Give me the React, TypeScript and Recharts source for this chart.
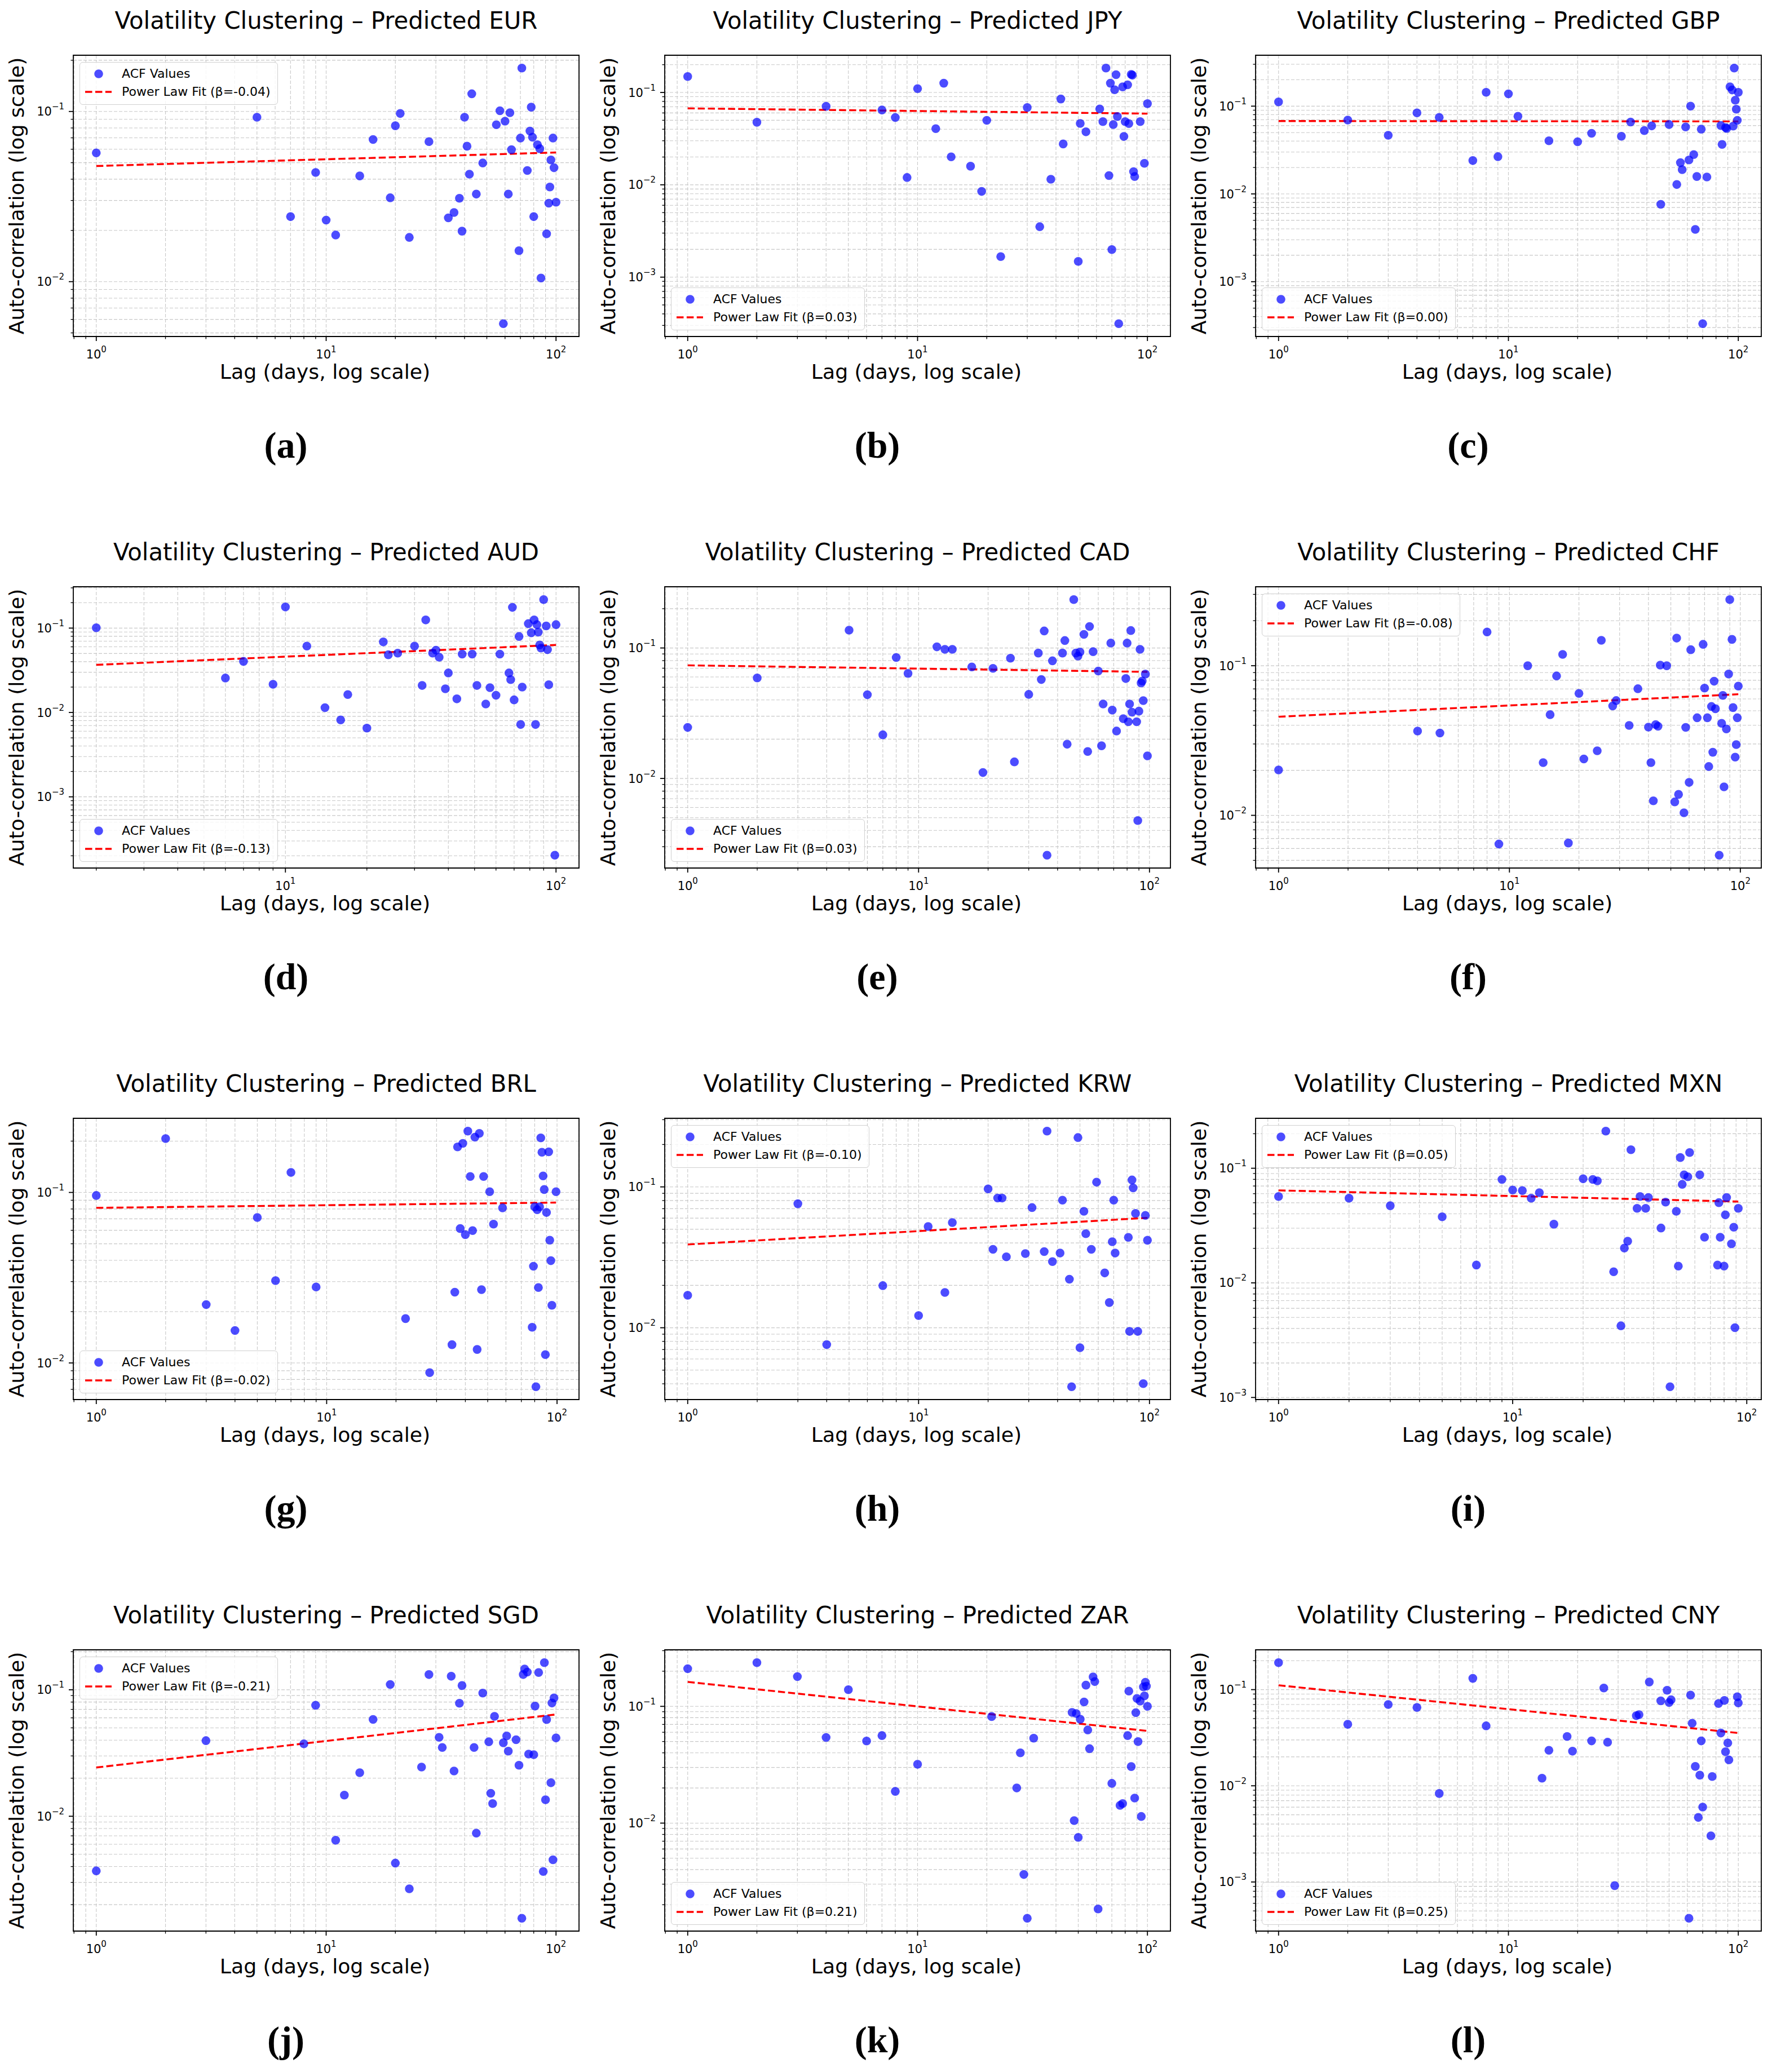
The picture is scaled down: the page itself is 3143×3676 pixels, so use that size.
import React from 'react';
import {
  ComposedChart,
  Scatter,
  Line,
  XAxis,
  YAxis,
  CartesianGrid,
  ReferenceArea,
  Legend,
} from 'recharts';

const FONT = '"DejaVu Sans", sans-serif';
const SERIF = '"Liberation Serif", "DejaVu Serif", serif';

// ACF values (lag in days, auto-correlation)
const EUR_LAGS = [1, 5, 7, 9, 10, 11, 14, 16, 19, 20, 21, 23, 28, 34, 36, 38, 39, 40, 41, 42, 43, 45, 48, 55, 57, 59, 60, 62, 63, 64, 69, 70, 71, 75, 77, 78, 79, 80, 83, 85, 86, 91, 93, 94, 95, 97, 98, 100];
const EUR_ACF = [0.0571, 0.0925, 0.0241, 0.0438, 0.023, 0.0188, 0.0418, 0.0684, 0.0311, 0.0824, 0.0973, 0.0182, 0.0665, 0.0237, 0.0255, 0.0309, 0.0198, 0.0925, 0.0625, 0.0428, 0.127, 0.0327, 0.0498, 0.0836, 0.101, 0.00566, 0.0877, 0.0327, 0.0983, 0.0596, 0.0152, 0.0698, 0.18, 0.045, 0.0767, 0.106, 0.0706, 0.0241, 0.0638, 0.0604, 0.0105, 0.0191, 0.0289, 0.036, 0.0519, 0.0698, 0.0467, 0.0293];
const EUR_FIT = [0.0478, 0.0574];

const JPY_LAGS = [1, 2, 4, 7, 8, 9, 10, 12, 13, 14, 17, 19, 20, 23, 30, 34, 38, 42, 43, 50, 51, 54, 62, 64, 66, 68, 69, 70, 71, 72, 73, 74, 75, 78, 79, 80, 82, 83, 85, 86, 87, 88, 93, 97, 100];
const JPY_ACF = [0.149, 0.0476, 0.0708, 0.0646, 0.0535, 0.012, 0.11, 0.0406, 0.126, 0.0201, 0.0159, 0.00848, 0.0499, 0.00167, 0.0687, 0.00352, 0.0115, 0.085, 0.0277, 0.00148, 0.0462, 0.0375, 0.0663, 0.0484, 0.184, 0.0126, 0.126, 0.00199, 0.0449, 0.107, 0.156, 0.0549, 0.000313, 0.115, 0.0334, 0.0484, 0.121, 0.046, 0.157, 0.154, 0.0139, 0.0123, 0.0484, 0.0171, 0.0757];
const JPY_FIT = [0.0673, 0.059];

const GBP_LAGS = [1, 2, 3, 4, 5, 7, 8, 9, 10, 11, 15, 20, 23, 31, 34, 39, 42, 46, 50, 54, 56, 57, 59, 61, 62, 64, 65, 66, 69, 70, 73, 84, 85, 88, 89, 92, 94, 95, 96, 97, 98, 99, 100];
const GBP_ACF = [0.112, 0.0695, 0.0466, 0.0838, 0.0745, 0.024, 0.144, 0.0266, 0.138, 0.0766, 0.0403, 0.0393, 0.0491, 0.0454, 0.0659, 0.0527, 0.0596, 0.00762, 0.0618, 0.0128, 0.0227, 0.0189, 0.058, 0.0244, 0.1, 0.0281, 0.00394, 0.0158, 0.0547, 0.000332, 0.0156, 0.0602, 0.0366, 0.057, 0.0557, 0.166, 0.153, 0.0593, 0.272, 0.117, 0.0923, 0.0689, 0.144];
const GBP_FIT = [0.0677, 0.067];

const AUD_LAGS = [2, 6, 7, 9, 10, 12, 14, 16, 17, 20, 23, 24, 26, 30, 32, 33, 35, 36, 37, 39, 40, 43, 45, 49, 51, 55, 57, 60, 62, 67, 68, 69, 70, 73, 74, 75, 79, 81, 83, 84, 85, 86, 87, 88, 90, 92, 93, 94, 99, 100];
const AUD_ACF = [0.101, 0.0256, 0.0403, 0.0216, 0.178, 0.0612, 0.0114, 0.00815, 0.0163, 0.00652, 0.0686, 0.0483, 0.0505, 0.0612, 0.0209, 0.125, 0.0505, 0.0548, 0.0452, 0.0191, 0.0294, 0.0145, 0.0491, 0.0491, 0.0209, 0.0126, 0.0197, 0.016, 0.0491, 0.0294, 0.0245, 0.176, 0.0141, 0.0796, 0.0072, 0.02, 0.113, 0.088, 0.125, 0.0072, 0.11, 0.0895, 0.0631, 0.058, 0.218, 0.106, 0.0555, 0.0213, 0.000203, 0.11];
const AUD_FIT = [0.0367, 0.0631];

const CAD_LAGS = [1, 2, 5, 6, 7, 8, 9, 12, 13, 14, 17, 19, 21, 25, 26, 30, 33, 34, 35, 36, 38, 42, 43, 44, 47, 48, 49, 50, 52, 54, 55, 57, 60, 62, 63, 68, 69, 72, 77, 79, 80, 81, 82, 83, 84, 88, 89, 90, 91, 92, 93, 94, 96, 98];
const CAD_ACF = [0.0246, 0.0589, 0.137, 0.0438, 0.0216, 0.0845, 0.0638, 0.102, 0.0976, 0.0976, 0.0716, 0.0111, 0.0698, 0.0835, 0.0134, 0.0441, 0.0914, 0.0573, 0.135, 0.00258, 0.0797, 0.0914, 0.114, 0.0183, 0.235, 0.0914, 0.0866, 0.0931, 0.127, 0.0161, 0.146, 0.0937, 0.0666, 0.0178, 0.0372, 0.109, 0.0334, 0.0231, 0.0287, 0.0583, 0.109, 0.0272, 0.0372, 0.136, 0.0322, 0.0272, 0.00476, 0.0328, 0.0976, 0.0539, 0.0558, 0.0395, 0.0631, 0.0149];
const CAD_FIT = [0.0736, 0.0656];

const CHF_LAGS = [1, 4, 5, 8, 9, 12, 14, 15, 16, 17, 18, 20, 21, 24, 25, 28, 29, 33, 36, 40, 41, 42, 43, 44, 45, 48, 52, 53, 54, 57, 58, 60, 61, 65, 69, 70, 72, 73, 75, 76, 77, 78, 81, 83, 84, 85, 87, 89, 90, 92, 93, 95, 96, 97, 98];
const CHF_ACF = [0.0201, 0.0366, 0.0355, 0.168, 0.00643, 0.1, 0.0225, 0.0471, 0.0855, 0.119, 0.00653, 0.0653, 0.0238, 0.027, 0.148, 0.0538, 0.0585, 0.0399, 0.0702, 0.0389, 0.0225, 0.0125, 0.0404, 0.0394, 0.101, 0.1, 0.0123, 0.153, 0.0138, 0.0104, 0.0387, 0.0166, 0.128, 0.0449, 0.139, 0.0709, 0.0449, 0.0212, 0.0534, 0.0264, 0.0788, 0.0516, 0.00541, 0.0412, 0.0633, 0.0155, 0.0378, 0.088, 0.277, 0.15, 0.0525, 0.0245, 0.0297, 0.0449, 0.0731];
const CHF_FIT = [0.0456, 0.0645];

const BRL_LAGS = [1, 2, 3, 4, 5, 6, 7, 9, 22, 28, 35, 36, 37, 38, 39, 40, 41, 42, 43, 44, 45, 46, 47, 48, 51, 53, 58, 78, 79, 80, 81, 82, 83, 84, 85, 86, 87, 88, 89, 90, 92, 93, 94, 95, 99];
const BRL_ACF = [0.096, 0.207, 0.022, 0.0155, 0.0713, 0.0304, 0.131, 0.0279, 0.0182, 0.00877, 0.0128, 0.026, 0.185, 0.0614, 0.194, 0.0565, 0.229, 0.124, 0.0597, 0.211, 0.012, 0.222, 0.0269, 0.124, 0.101, 0.0652, 0.0812, 0.0162, 0.0369, 0.0823, 0.00725, 0.0792, 0.0277, 0.0823, 0.209, 0.172, 0.125, 0.104, 0.0112, 0.0763, 0.173, 0.0525, 0.0398, 0.0218, 0.101];
const BRL_FIT = [0.0812, 0.0872];

const KRW_LAGS = [1, 3, 4, 7, 10, 11, 13, 14, 20, 21, 22, 23, 24, 29, 31, 35, 36, 38, 41, 42, 45, 46, 49, 50, 52, 53, 56, 59, 64, 67, 69, 70, 71, 81, 82, 84, 85, 87, 89, 94, 96, 98];
const KRW_ACF = [0.017, 0.0759, 0.00759, 0.0199, 0.0122, 0.0523, 0.0178, 0.0558, 0.0967, 0.036, 0.0833, 0.0833, 0.0319, 0.0336, 0.0713, 0.0347, 0.249, 0.0295, 0.0339, 0.0805, 0.0221, 0.00381, 0.224, 0.00722, 0.0671, 0.0465, 0.036, 0.108, 0.0245, 0.0151, 0.0408, 0.0805, 0.0339, 0.0438, 0.00942, 0.112, 0.0984, 0.0648, 0.00942, 0.00401, 0.0628, 0.0418];
const KRW_FIT = [0.039, 0.0603];

const MXN_LAGS = [1, 2, 3, 5, 7, 9, 10, 11, 12, 13, 15, 20, 22, 23, 25, 27, 29, 30, 31, 32, 34, 35, 37, 38, 43, 45, 47, 50, 51, 52, 53, 54, 56, 57, 63, 66, 75, 76, 77, 80, 81, 82, 86, 88, 89, 92];
const MXN_ACF = [0.0567, 0.0548, 0.0471, 0.0377, 0.0143, 0.0799, 0.0646, 0.0638, 0.0548, 0.0612, 0.0325, 0.0809, 0.0799, 0.0776, 0.211, 0.0125, 0.00422, 0.0201, 0.0231, 0.145, 0.0447, 0.0567, 0.0447, 0.0555, 0.0301, 0.0506, 0.00124, 0.0421, 0.014, 0.124, 0.0724, 0.0877, 0.0842, 0.137, 0.0877, 0.025, 0.0143, 0.0501, 0.025, 0.014, 0.0392, 0.0555, 0.0219, 0.0306, 0.00406, 0.0447];
const MXN_FIT = [0.0641, 0.0512];

const SGD_LAGS = [1, 3, 8, 9, 11, 12, 14, 16, 19, 20, 23, 26, 28, 31, 32, 35, 36, 38, 39, 44, 45, 48, 51, 52, 53, 54, 59, 61, 62, 67, 69, 71, 72, 73, 75, 76, 80, 81, 84, 88, 89, 90, 91, 95, 96, 97, 98, 100];
const SGD_ACF = [0.0037, 0.0396, 0.0374, 0.0754, 0.00646, 0.0147, 0.0221, 0.0583, 0.11, 0.00426, 0.00267, 0.0245, 0.132, 0.0421, 0.035, 0.128, 0.0228, 0.0783, 0.108, 0.035, 0.00735, 0.0942, 0.0388, 0.0152, 0.0126, 0.0617, 0.0381, 0.0432, 0.0327, 0.0403, 0.0253, 0.00156, 0.132, 0.146, 0.138, 0.031, 0.0307, 0.0743, 0.137, 0.00366, 0.164, 0.0135, 0.0582, 0.0184, 0.0786, 0.00453, 0.0862, 0.0416];
const SGD_FIT = [0.0243, 0.0638];

const ZAR_LAGS = [1, 2, 3, 4, 5, 6, 7, 8, 10, 21, 27, 28, 29, 30, 32, 47, 48, 49, 50, 51, 53, 54, 55, 56, 58, 59, 61, 70, 76, 78, 82, 83, 85, 88, 89, 90, 91, 93, 94, 96, 97, 98, 99, 100];
const ZAR_ACF = [0.21, 0.237, 0.18, 0.0541, 0.139, 0.0505, 0.0562, 0.0187, 0.0319, 0.0818, 0.02, 0.04, 0.00363, 0.00153, 0.0534, 0.0887, 0.0105, 0.0869, 0.00755, 0.0776, 0.109, 0.152, 0.0628, 0.0434, 0.179, 0.163, 0.00184, 0.0219, 0.0142, 0.0147, 0.0562, 0.135, 0.0305, 0.0164, 0.0883, 0.117, 0.0499, 0.111, 0.0114, 0.147, 0.123, 0.161, 0.149, 0.1];
const ZAR_FIT = [0.162, 0.0616];

const CNY_LAGS = [1, 2, 3, 4, 5, 7, 8, 14, 15, 18, 19, 23, 26, 27, 29, 36, 37, 41, 46, 49, 50, 51, 61, 62, 63, 65, 67, 68, 69, 70, 76, 77, 82, 84, 87, 88, 90, 91, 99, 100];
const CNY_ACF = [0.191, 0.0436, 0.0701, 0.0652, 0.00832, 0.131, 0.042, 0.012, 0.0234, 0.0326, 0.0229, 0.0293, 0.104, 0.0284, 0.000916, 0.0536, 0.0549, 0.12, 0.0765, 0.0986, 0.0735, 0.0784, 0.000419, 0.0877, 0.0447, 0.0159, 0.00469, 0.0129, 0.0293, 0.00601, 0.00302, 0.0125, 0.0718, 0.0354, 0.0772, 0.0226, 0.0279, 0.0186, 0.0843, 0.0728];
const CNY_FIT = [0.111, 0.0354];

const PANELS = [
  { tag: 'a', code: 'EUR', lags: EUR_LAGS, acf: EUR_ACF, fit: EUR_FIT, beta: '-0.04', legend: 'upper' },
  { tag: 'b', code: 'JPY', lags: JPY_LAGS, acf: JPY_ACF, fit: JPY_FIT, beta: '0.03', legend: 'lower' },
  { tag: 'c', code: 'GBP', lags: GBP_LAGS, acf: GBP_ACF, fit: GBP_FIT, beta: '0.00', legend: 'lower' },
  { tag: 'd', code: 'AUD', lags: AUD_LAGS, acf: AUD_ACF, fit: AUD_FIT, beta: '-0.13', legend: 'lower' },
  { tag: 'e', code: 'CAD', lags: CAD_LAGS, acf: CAD_ACF, fit: CAD_FIT, beta: '0.03', legend: 'lower' },
  { tag: 'f', code: 'CHF', lags: CHF_LAGS, acf: CHF_ACF, fit: CHF_FIT, beta: '-0.08', legend: 'upper' },
  { tag: 'g', code: 'BRL', lags: BRL_LAGS, acf: BRL_ACF, fit: BRL_FIT, beta: '-0.02', legend: 'lower' },
  { tag: 'h', code: 'KRW', lags: KRW_LAGS, acf: KRW_ACF, fit: KRW_FIT, beta: '-0.10', legend: 'upper' },
  { tag: 'i', code: 'MXN', lags: MXN_LAGS, acf: MXN_ACF, fit: MXN_FIT, beta: '0.05', legend: 'upper' },
  { tag: 'j', code: 'SGD', lags: SGD_LAGS, acf: SGD_ACF, fit: SGD_FIT, beta: '-0.21', legend: 'upper' },
  { tag: 'k', code: 'ZAR', lags: ZAR_LAGS, acf: ZAR_ACF, fit: ZAR_FIT, beta: '0.21', legend: 'lower' },
  { tag: 'l', code: 'CNY', lags: CNY_LAGS, acf: CNY_ACF, fit: CNY_FIT, beta: '0.25', legend: 'lower' },
];

const MULTS = [1, 2, 3, 4, 5, 6, 7, 8, 9];

// layout (px)
const CELL_W = 1048.5;
const CELL_H = 943;
const CHART_W = 1048;
const CHART_H = 700;
const PLOT_L = 130;
const PLOT_T = 98;
const PLOT_W = 897;
const PLOT_H = 499;
const Y_AXIS_W = 90;
const X_AXIS_H = 60;

// matplotlib-style 5% margin in log space
function logDomain(vals: number[]): [number, number] {
  const lo = Math.log10(Math.min(...vals));
  const hi = Math.log10(Math.max(...vals));
  const pad = (hi - lo) * 0.05;
  return [Math.pow(10, lo - pad), Math.pow(10, hi + pad)];
}

function logTicks([lo, hi]: [number, number]) {
  const out: number[] = [];
  for (let d = Math.floor(Math.log10(lo)); d <= Math.ceil(Math.log10(hi)); d++) {
    for (const m of MULTS) {
      const v = m * Math.pow(10, d);
      if (v >= lo && v <= hi) out.push(v);
    }
  }
  return out;
}

const decade = (v: number) => Math.round(Math.log10(v));
const isMajor = (v: number) => Math.abs(Math.log10(v) - decade(v)) < 1e-6;
const expText = (v: number) => {
  const d = decade(v);
  return d < 0 ? `\u2212${-d}` : `${d}`;
};

const XTick = (props: any) => {
  const { x, y, payload } = props;
  const major = isMajor(payload.value);
  return (
    <g>
      <line x1={x} x2={x} y1={y} y2={y + (major ? 8 : 4.5)} stroke="#000" strokeWidth={major ? 1.8 : 1.3} />
      {major && (
        <text x={x} y={y + 39} textAnchor="middle" fontFamily={FONT} fontSize={21} fill="#000">
          10<tspan dy={-11} fontSize={15}>{expText(payload.value)}</tspan>
        </text>
      )}
    </g>
  );
};

const YTick = (props: any) => {
  const { x, y, payload } = props;
  const major = isMajor(payload.value);
  return (
    <g>
      <line x1={x} x2={x - (major ? 8 : 4.5)} y1={y} y2={y} stroke="#000" strokeWidth={major ? 1.8 : 1.3} />
      {major && (
        <text x={x - 16} y={y + 7.5} textAnchor="end" fontFamily={FONT} fontSize={21} fill="#000">
          10<tspan dy={-11} fontSize={15}>{expText(payload.value)}</tspan>
        </text>
      )}
    </g>
  );
};

const Dot = (props: any) => (
  <circle cx={props.cx} cy={props.cy} r={7.8} fill="#0000ff" fillOpacity={0.7} />
);

const LegendBox = ({ beta }: { beta: string }) => (
  <div
    style={{
      background: 'rgba(255,255,255,0.8)',
      border: '1.6px solid #d0d0d0',
      borderRadius: 6,
      padding: '4px 12px 6px 0',
      fontFamily: FONT,
      fontSize: 22,
      lineHeight: '32px',
      color: '#000',
      whiteSpace: 'nowrap',
    }}
  >
    <div style={{ display: 'flex', alignItems: 'center' }}>
      <svg width={74} height={32}>
        <circle cx={33} cy={16} r={7.8} fill="#0000ff" fillOpacity={0.7} />
      </svg>
      <span>ACF Values</span>
    </div>
    <div style={{ display: 'flex', alignItems: 'center' }}>
      <svg width={74} height={32}>
        <line x1={9} x2={56} y1={16} y2={16} stroke="#ff0000" strokeWidth={3.4} strokeDasharray="12.5 5.4" />
      </svg>
      <span>Power Law Fit (β={beta})</span>
    </div>
  </div>
);

function Panel({ p, left, top }: { p: any; left: number; top: number }) {
  const scatter = p.lags.map((lag: number, i: number) => ({ lag, value: p.acf[i] }));
  const lagLo = Math.min(...p.lags);
  const lagHi = Math.max(...p.lags);
  const fit = [
    { lag: lagLo, value: p.fit[0] },
    { lag: lagHi, value: p.fit[1] },
  ];
  const xDomain = logDomain([lagLo, lagHi]);
  const yDomain = logDomain([...p.acf, ...p.fit]);
  const legendPos =
    p.legend === 'upper'
      ? { left: PLOT_L + 11, top: PLOT_T + 12 }
      : { left: PLOT_L + 11, bottom: CHART_H - (PLOT_T + PLOT_H - 11) };
  const cx = PLOT_L + PLOT_W / 2 - 2;

  return (
    <div style={{ position: 'absolute', left, top, width: CELL_W, height: CELL_H }}>
      <ComposedChart
        width={CHART_W}
        height={CHART_H}
        margin={{
          top: PLOT_T,
          left: PLOT_L - Y_AXIS_W,
          right: CHART_W - PLOT_L - PLOT_W,
          bottom: CHART_H - PLOT_T - PLOT_H - X_AXIS_H,
        }}
      >
        <CartesianGrid stroke="#c8c8c8" strokeDasharray="6 3" strokeWidth={1.1} />
        <XAxis
          dataKey="lag"
          type="number"
          scale="log"
          domain={xDomain}
          allowDataOverflow
          ticks={logTicks(xDomain)}
          interval={0}
          tick={XTick}
          tickLine={false}
          axisLine={false}
          tickSize={0}
          tickMargin={0}
          height={X_AXIS_H}
        />
        <YAxis
          dataKey="value"
          type="number"
          scale="log"
          domain={yDomain}
          allowDataOverflow
          ticks={logTicks(yDomain)}
          interval={0}
          tick={YTick}
          tickLine={false}
          axisLine={false}
          tickSize={0}
          tickMargin={0}
          width={Y_AXIS_W}
        />
        <Scatter data={scatter} shape={Dot} isAnimationActive={false} />
        <Line
          data={fit}
          dataKey="value"
          type="linear"
          stroke="#ff0000"
          strokeWidth={3.4}
          strokeDasharray="12.5 5.4"
          dot={false}
          activeDot={false}
          isAnimationActive={false}
        />
        <ReferenceArea
          x1={xDomain[0]}
          x2={xDomain[1]}
          y1={yDomain[0]}
          y2={yDomain[1]}
          fill="none"
          fillOpacity={0}
          stroke="#000"
          strokeWidth={1.8}
          ifOverflow="visible"
        />
        <Legend
          layout="vertical"
          align="center"
          verticalAlign="middle"
          content={() => <LegendBox beta={p.beta} />}
          wrapperStyle={{ ...legendPos, width: 'auto', height: 'auto' }}
        />
      </ComposedChart>
      <svg
        width={CELL_W}
        height={CELL_H}
        style={{ position: 'absolute', left: 0, top: 0, pointerEvents: 'none' }}
      >
        <text x={cx + 2} y={51} textAnchor="middle" fontFamily={FONT} fontSize={41.8} fill="#000">
          {`Volatility Clustering \u2013 Predicted ${p.code}`}
        </text>
        <text x={cx} y={672} textAnchor="middle" fontFamily={FONT} fontSize={36.2} fill="#000">
          Lag (days, log scale)
        </text>
        <text
          transform={`translate(42, ${PLOT_T + PLOT_H / 2}) rotate(-90)`}
          textAnchor="middle"
          fontFamily={FONT}
          fontSize={36.2}
          fill="#000"
        >
          Auto-correlation (log scale)
        </text>
        <text x={507} y={812} textAnchor="middle" fontFamily={SERIF} fontSize={66} fontWeight="bold" fill="#000">
          ({p.tag})
        </text>
      </svg>
    </div>
  );
}

export default function App() {
  return (
    <div
      style={{
        position: 'absolute',
        left: 0,
        top: 0,
        width: 3143,
        height: 3676,
        background: '#fff',
        overflow: 'hidden',
      }}
    >
      {PANELS.map((p, i) => (
        <Panel
          key={p.code}
          p={p}
          left={Math.round((i % 3) * CELL_W)}
          top={Math.floor(i / 3) * CELL_H}
        />
      ))}
    </div>
  );
}
